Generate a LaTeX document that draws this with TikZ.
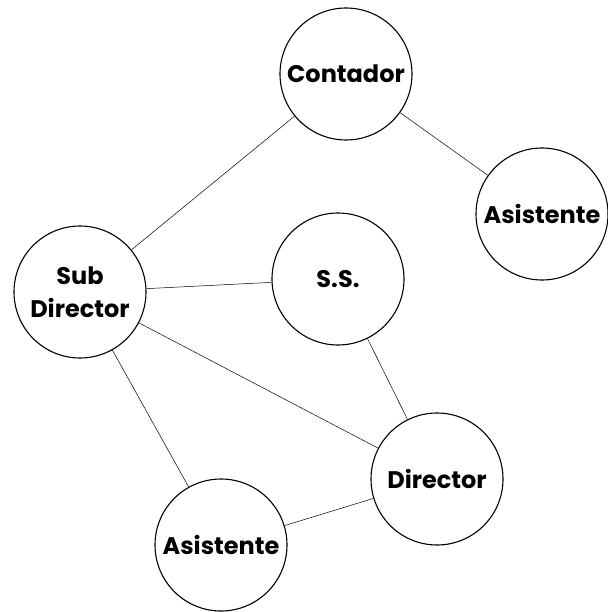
\documentclass[tikz,border=0pt]{standalone}
\usepackage{fontspec}
\setmainfont{Poppins}
\begin{document}
\begin{tikzpicture}[x=1pt,y=-1pt,
  role/.style={circle,draw=black,line width=1.1pt,minimum size=132pt,inner sep=0pt,
    align=center,font=\fontsize{24}{33}\selectfont\bfseries},
  link/.style={draw=black,line width=0.5pt}]
  \useasboundingbox (0,0) rectangle (607,612);
  \node[role] (cont) at (346,74) {Contador};
  \node[role] (asr) at (542,214) {Asistente};
  \node[role] (sub) at (80,292) {Sub\\Director};
  \node[role] (ss) at (338,279) {S.S.};
  \node[role] (dir) at (437,479) {Director};
  \node[role] (asb) at (221,545) {Asistente};
  \draw[link] (cont) -- (sub);
  \draw[link] (cont) -- (asr);
  \draw[link] (sub) -- (ss);
  \draw[link] (sub) -- (dir);
  \draw[link] (sub) -- (asb);
  \draw[link] (ss) -- (dir);
  \draw[link] (dir) -- (asb);
\end{tikzpicture}
\end{document}
